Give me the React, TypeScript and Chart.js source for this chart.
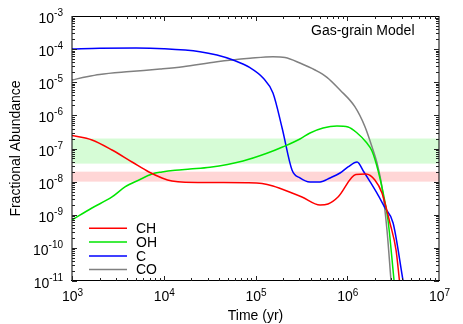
import React, { useEffect, useRef } from 'react';
import { Chart, registerables } from 'chart.js';

Chart.register(...registerables);

// ---- Data ----
const chTime = [1.0e3, 1.65e3, 2.73e3, 4.51e3, 6.9e3, 9.57e3, 1.23e4, 1.71e4, 4.1e4, 8.07e4, 1.18e5, 1.55e5, 2.5e5, 3.21e5, 5.05e5, 6.17e5, 7.93e5, 1.24e6, 1.6e6, 2.0e6, 2.39e6, 2.92e6, 3.4e6, 3.71e6];
const chValue = [2.47e-7, 1.81e-7, 9.0e-8, 3.91e-8, 1.95e-8, 1.29e-8, 1.04e-8, 9.55e-9, 9.4e-9, 9.3e-9, 8.8e-9, 7.4e-9, 4.54e-9, 3.44e-9, 1.97e-9, 2.11e-9, 3.44e-9, 1.64e-8, 1.7e-8, 1.12e-8, 4.54e-9, 5.64e-10, 8.7e-11, 1.0e-11];

const ohTime = [1.0e3, 1.65e3, 2.73e3, 3.78e3, 5.37e3, 7.45e3, 9.57e3, 1.33e4, 1.93e4, 3.19e4, 7.31e4, 1.33e5, 2.0e5, 3.05e5, 3.93e5, 5.45e5, 7.73e5, 1.02e6, 1.28e6, 1.6e6, 1.86e6, 2.16e6, 2.45e6, 2.78e6, 3.24e6];
const ohValue = [6.95e-10, 1.6e-9, 3.44e-9, 6.89e-9, 1.12e-8, 1.7e-8, 1.95e-8, 2.2e-8, 2.4e-8, 2.71e-8, 4.2e-8, 7.16e-8, 1.13e-7, 1.94e-7, 2.94e-7, 4.16e-7, 4.78e-7, 4.46e-7, 2.94e-7, 1.57e-7, 8.41e-8, 2.24e-8, 4.86e-9, 6.95e-10, 1.0e-11];

const cTime = [1.0e3, 2.0e3, 5.0e3, 1.0e4, 2.48e4, 3.8e4, 5.69e4, 8.71e4, 1.21e5, 1.55e5, 1.95e5, 2.5e5, 3.05e5, 3.93e5, 5.05e5, 6.49e5, 8.34e5, 1.02e6, 1.28e6, 1.52e6, 1.77e6, 2.16e6, 2.58e6, 3.16e6, 4.06e6];
const cValue = [1.0e-4, 1.07e-4, 1.08e-4, 1.03e-4, 8.4e-5, 6.65e-5, 4.7e-5, 2.75e-5, 1.34e-5, 4.73e-6, 4.16e-7, 2.24e-8, 1.29e-8, 9.75e-9, 9.75e-9, 1.29e-8, 1.82e-8, 2.77e-8, 3.92e-8, 1.95e-8, 1.0e-8, 3.98e-9, 1.6e-9, 5.64e-10, 1.0e-11];

const coTime = [1.0e3, 1.45e3, 2.0e3, 4.29e3, 9.1e3, 1.62e4, 3.8e4, 8.71e4, 1.55e5, 2.1e5, 3.05e5, 4.46e5, 6.01e5, 8.34e5, 1.21e6, 1.56e6, 1.86e6, 2.11e6, 2.39e6, 2.71e6, 3.0e6];
const coValue = [1.17e-5, 1.47e-5, 1.72e-5, 2.1e-5, 2.5e-5, 2.94e-5, 4.17e-5, 5.28e-5, 5.9e-5, 5.58e-5, 3.81e-5, 2.34e-5, 1.41e-5, 5.83e-6, 1.83e-6, 4.55e-7, 1.13e-7, 3.65e-8, 6.89e-9, 3.47e-10, 1.0e-11];

const seriesLabels = ['CH', 'OH', 'C', 'CO'];
const seriesColors = ['#ff0000', '#00e600', '#0000ff', '#808080'];

const greenBand = [3.5e-8, 2.0e-7];
const redBand = [1.0e-8, 2.0e-8];

const xTickValues = [1e3, 1e4, 1e5, 1e6, 1e7];
const xTickExponents = ['3', '4', '5', '6', '7'];
const yTickValues = [1e-3, 1e-4, 1e-5, 1e-6, 1e-7, 1e-8, 1e-9, 1e-10, 1e-11];
const yTickExponents = ['-3', '-4', '-5', '-6', '-7', '-8', '-9', '-10', '-11'];

const xTitle = 'Time (yr)';
const yTitle = 'Fractional Abundance';
const modelLabel = 'Gas-grain Model';

const FONT = '"Liberation Sans", Arial, Helvetica, sans-serif';

function drawPow(ctx: CanvasRenderingContext2D, exp: string, x: number, y: number, align: 'center' | 'right', raise: number) {
  ctx.font = `14px ${FONT}`;
  const wb = ctx.measureText('10').width;
  ctx.font = `10px ${FONT}`;
  const we = ctx.measureText(exp).width;
  const start = align === 'center' ? x - (wb + we) / 2 : x - (wb + we);
  ctx.textAlign = 'left';
  ctx.textBaseline = 'alphabetic';
  ctx.fillStyle = '#000';
  ctx.font = `14px ${FONT}`;
  ctx.fillText('10', start, y);
  ctx.font = `10px ${FONT}`;
  ctx.fillText(exp, start + wb, y - raise);
}

const decorPlugin = {
  id: 'decor',
  beforeDatasetsDraw(chart: any) {
    const { ctx, chartArea: a, scales } = chart;
    const y = scales.y;
    ctx.save();
    const g1 = y.getPixelForValue(greenBand[1]);
    const g0 = y.getPixelForValue(greenBand[0]);
    ctx.fillStyle = 'rgb(214,252,214)';
    ctx.fillRect(a.left, g1, a.right - a.left, g0 - g1);
    const r1 = y.getPixelForValue(redBand[1]);
    const r0 = y.getPixelForValue(redBand[0]);
    ctx.fillStyle = 'rgb(255,214,214)';
    ctx.fillRect(a.left, r1, a.right - a.left, r0 - r1);
    ctx.restore();
  },
  afterDatasetsDraw(chart: any) {
    const { ctx, chartArea: a, scales } = chart;
    const xs = scales.x;
    const ys = scales.y;
    ctx.save();

    // frame
    ctx.lineWidth = 1;
    ctx.strokeStyle = '#000';
    ctx.beginPath();
    ctx.moveTo(a.left, a.top);
    ctx.lineTo(a.left, a.bottom);
    ctx.moveTo(a.right, a.top);
    ctx.lineTo(a.right, a.bottom);
    ctx.moveTo(a.left, a.top + 0.5);
    ctx.lineTo(a.right, a.top + 0.5);
    ctx.stroke();
    ctx.beginPath();
    ctx.moveTo(a.left - 1, a.bottom - 0.5);
    ctx.lineTo(a.right + 1, a.bottom - 0.5);
    ctx.stroke();

    // ticks
    ctx.strokeStyle = '#222';
    ctx.beginPath();
    for (let d = 3; d <= 6; d++) {
      for (let m = 1; m <= 9; m++) {
        const v = m * Math.pow(10, d);
        const px = Math.round(xs.getPixelForValue(v)) + 0.5;
        const len = m === 1 ? 5 : 3;
        ctx.moveTo(px, a.bottom);
        ctx.lineTo(px, a.bottom - len);
        ctx.moveTo(px, a.top);
        ctx.lineTo(px, a.top + len);
      }
    }
    for (let d = -11; d <= -4; d++) {
      for (let m = 1; m <= 9; m++) {
        const v = m * Math.pow(10, d);
        const py = Math.round(ys.getPixelForValue(v)) + 0.5;
        const len = m === 1 ? 5 : 3;
        ctx.moveTo(a.left, py);
        ctx.lineTo(a.left + len, py);
        ctx.moveTo(a.right, py);
        ctx.lineTo(a.right - len, py);
      }
    }
    ctx.stroke();

    // tick labels
    xTickValues.forEach((v, i) => {
      const px = xs.getPixelForValue(v);
      drawPow(ctx, xTickExponents[i], px + 0.5, a.bottom + 20, 'center', 5);
    });
    yTickValues.forEach((v, i) => {
      const py = ys.getPixelForValue(v);
      drawPow(ctx, yTickExponents[i], a.left - 9, py + 7, 'right', 7);
    });

    // axis titles
    ctx.fillStyle = '#000';
    ctx.font = `14px ${FONT}`;
    ctx.textAlign = 'center';
    ctx.textBaseline = 'alphabetic';
    ctx.fillText(xTitle, (a.left + a.right) / 2, a.bottom + 38.5);
    ctx.save();
    ctx.translate(20, (a.top + a.bottom) / 2);
    ctx.rotate(-Math.PI / 2);
    ctx.fillText(yTitle, 0, 0);
    ctx.restore();

    // model label
    ctx.textAlign = 'right';
    ctx.fillText(modelLabel, a.right - 24.5, a.top + 19);

    // legend
    const rowY = [a.bottom - 52.7, a.bottom - 39, a.bottom - 25, a.bottom - 11.5];
    seriesLabels.forEach((lab, i) => {
      const yy = rowY[i];
      ctx.strokeStyle = seriesColors[i];
      ctx.lineWidth = 1.5;
      ctx.beginPath();
      ctx.moveTo(a.left + 17, yy);
      ctx.lineTo(a.left + 55, yy);
      ctx.stroke();
      ctx.fillStyle = '#000';
      ctx.textAlign = 'left';
      ctx.font = `14px ${FONT}`;
      ctx.fillText(lab, a.left + 64, yy + 4.5);
    });

    ctx.restore();
  },
};

function pts(t: number[], v: number[]) {
  return t.map((x, i) => ({ x, y: v[i] }));
}

export default function App() {
  const ref = useRef<HTMLCanvasElement>(null);
  useEffect(() => {
    if (!ref.current) return;
    const chart = new Chart(ref.current, {
      type: 'line',
      data: {
        datasets: [
          { label: seriesLabels[0], data: pts(chTime, chValue), borderColor: seriesColors[0] },
          { label: seriesLabels[1], data: pts(ohTime, ohValue), borderColor: seriesColors[1] },
          { label: seriesLabels[2], data: pts(cTime, cValue), borderColor: seriesColors[2] },
          { label: seriesLabels[3], data: pts(coTime, coValue), borderColor: seriesColors[3] },
        ].map((d) => ({ ...d, borderWidth: 1.5, pointRadius: 0, cubicInterpolationMode: 'monotone', fill: false })),
      },
      options: {
        responsive: false,
        maintainAspectRatio: false,
        animation: false,
        layout: { padding: { left: 72, right: 24, top: 16, bottom: 43 } },
        scales: {
          x: { type: 'logarithmic', min: 1e3, max: 1e7, display: false },
          y: { type: 'logarithmic', min: 1e-11, max: 1e-3, display: false },
        },
        plugins: { legend: { display: false }, tooltip: { enabled: false } },
        events: [],
      },
      plugins: [decorPlugin],
    } as any);
    return () => chart.destroy();
  }, []);
  return (
    <div style={{ position: 'fixed', left: 0, top: 0, width: 463, height: 324, background: '#fff' }}>
      <canvas ref={ref} width={463} height={324} style={{ display: 'block' }} />
    </div>
  );
}
